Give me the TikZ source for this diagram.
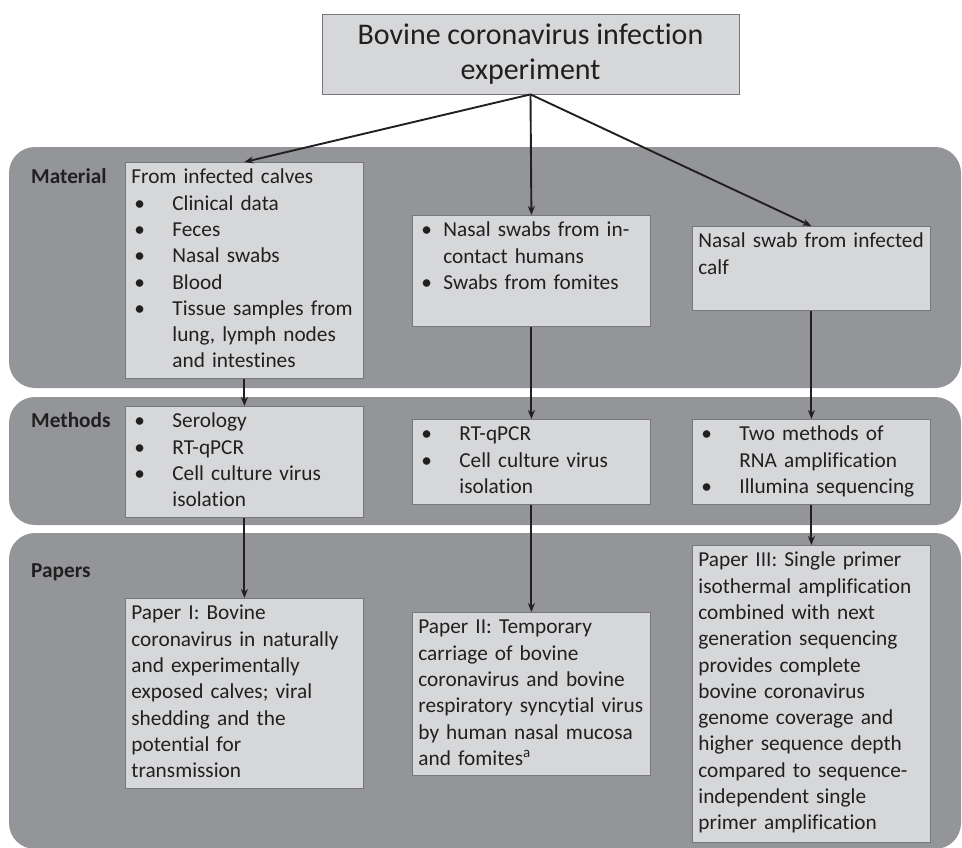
\documentclass[tikz,border=0pt]{standalone}
\usepackage{fontspec}
\setmainfont{Carlito}[Ligatures=NoCommon]
\usepackage{tikz}
\usetikzlibrary{arrows.meta}

\definecolor{bandgray}{RGB}{147,149,152}
\definecolor{boxfill}{RGB}{214,215,217}
\definecolor{boxedge}{RGB}{120,120,124}
\definecolor{inkcol}{RGB}{35,31,32}

\setlength{\parindent}{0pt}
\newcommand{\bfirst}[2][41pt]{\makebox[#1][l]{\hspace{3pt}\textbullet}#2}
\newcommand{\bitem}[2][41pt]{\par\bfirst[#1]{#2}}
\newcommand{\bcont}[2][41pt]{\par\hspace*{#1}#2}

\begin{document}
\begin{tikzpicture}[x=1pt,y=-1pt,
	band/.style={fill=bandgray,rounded corners=26pt},
	bandlabel/.style={anchor=base west,inner sep=0pt,text=inkcol,font=\fontsize{21.3pt}{26.3pt}\selectfont\bfseries},
	infobox/.style={draw=boxedge,line width=0.8pt,fill=boxfill,anchor=north west,inner xsep=6pt,inner ysep=3pt,
		text width=226pt,align=left,text height=18.4pt,text=inkcol,font=\fontsize{21.3pt}{26.3pt}\selectfont},
	titlebox/.style={draw=boxedge,line width=0.8pt,fill=boxfill,minimum width=417pt,minimum height=80pt,
		align=center,text=inkcol,font=\fontsize{30pt}{35pt}\selectfont},
	flow/.style={draw=inkcol,line width=1.9pt,-{Stealth[length=9pt,width=7pt]}}]
	
	\useasboundingbox (0,0) rectangle (962,847);
	
	\fill[band] (9,147) rectangle (961,388);
	\fill[band] (9,397) rectangle (961,525);
	\fill[band] (9,533) rectangle (961,849);
	
	\node[bandlabel] (lmat) at (31,183.4) {Material};
	\node[bandlabel] (lmet) at (31,427.4) {Methods};
	\node[bandlabel] (lpap) at (31,577) {Papers};
	
	\node[titlebox] (title) at (530.5,54) {Bovine coronavirus infection\\experiment};
	
	\node[infobox,text depth=191.6pt] (mat1) at (125,162) {From infected calves
		\bitem{Clinical data}
		\bitem{Feces}
		\bitem{Nasal swabs}
		\bitem{Blood}
		\bitem{Tissue samples from}
		\bcont{lung, lymph nodes}
		\bcont{and intestines}};
	\node[infobox,text depth=86.6pt] (mat2) at (412,215) {\bfirst[25pt]{Nasal swabs from in-}
		\bcont[25pt]{contact humans}
		\bitem[25pt]{Swabs from fomites}};
	\node[infobox,text depth=59.6pt] (mat3) at (692,226) {Nasal swab from infected\\calf};
	
	\node[infobox,text depth=86.6pt] (met1) at (125,406) {\bfirst{Serology}
		\bitem{RT-qPCR}
		\bitem{Cell culture virus}
		\bcont{isolation}};
	\node[infobox,text depth=60.6pt] (met2) at (412,419) {\bfirst{RT-qPCR}
		\bitem{Cell culture virus}
		\bcont{isolation}};
	\node[infobox,text depth=60.6pt] (met3) at (692,419) {\bfirst{Two methods of}
		\bcont{RNA amplification}
		\bitem{Illumina sequencing}};
	
	\node[infobox,text depth=165.6pt] (pap1) at (125,598) {Paper I: Bovine\\coronavirus in naturally\\and experimentally\\exposed calves; viral\\shedding and the\\potential for\\transmission};
	\node[infobox,text depth=138.6pt] (pap2) at (412,612) {Paper II: Temporary\\carriage of bovine\\coronavirus and bovine\\respiratory syncytial virus\\by human nasal mucosa\\and fomites\textsuperscript{a}};
	\node[infobox,text depth=272.6pt] (pap3) at (692,545) {Paper III: Single primer\\isothermal amplification\\combined with next\\generation sequencing\\provides complete\\bovine coronavirus\\genome coverage and\\higher sequence depth\\compared to sequence-\\independent single\\primer amplification};
	
	\draw[flow] (title.south) -- (mat1.north);
	\draw[flow] (title.south) -- (mat2.north);
	\draw[flow] (title.south) -- (mat3.north);
	\draw[flow] (mat1.south) -- (met1.north);
	\draw[flow] (mat2.south) -- (met2.north);
	\draw[flow] (mat3.south) -- (met3.north);
	\draw[flow] (met1.south) -- (pap1.north);
	\draw[flow] (met2.south) -- (pap2.north);
	\draw[flow] (met3.south) -- (pap3.north);
	
\end{tikzpicture}
\end{document}
